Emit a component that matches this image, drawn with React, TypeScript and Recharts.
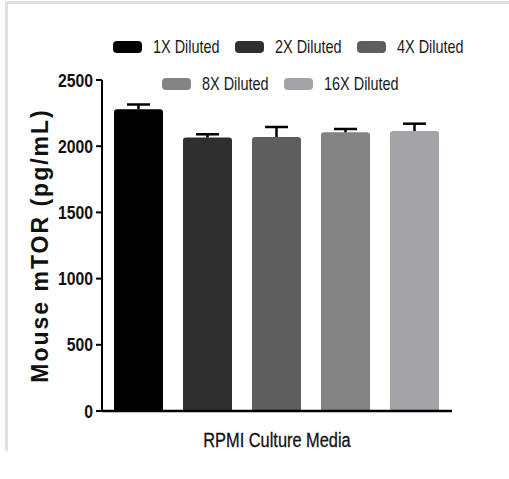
import React from 'react';
import { BarChart, Bar, XAxis, YAxis, Legend, Rectangle } from 'recharts';

const seriesNames = ['1X Diluted', '2X Diluted', '4X Diluted', '8X Diluted', '16X Diluted'];
const seriesValues = [2280, 2065, 2070, 2105, 2115];
const seriesErrors = [35, 25, 75, 25, 55];
const seriesColors = ['#000000', '#2f2f2f', '#5e5e5e', '#838383', '#a4a4a8'];
const category = 'RPMI Culture Media';
const yTicks = [0, 500, 1000, 1500, 2000, 2500];
const yTitle = 'Mouse mTOR (pg/mL)';

const data = [
  seriesNames.reduce(
    (row: any, _n, i) => {
      row['s' + i] = seriesValues[i];
      return row;
    },
    { name: category }
  ),
];

const SANS = '"Liberation Sans", Arial, sans-serif';

const makeShape = (i: number) => (p: any) => {
  const { x, y, width, height, fill } = p;
  const errPx = (seriesErrors[i] / seriesValues[i]) * height;
  const cx = x + width / 2;
  return (
    <g>
      <Rectangle x={x} y={y} width={width} height={height} fill={fill} radius={[3, 3, 0, 0]} />
      <line x1={cx} y1={y} x2={cx} y2={y - errPx} stroke="#000" strokeWidth={2.5} />
      <line x1={cx - 11.5} y1={y - errPx} x2={cx + 11.5} y2={y - errPx} stroke="#000" strokeWidth={2.5} />
    </g>
  );
};

const renderLegend = () => {
  const item = (i: number, w: number, mr: number) => (
    <div key={i} style={{ display: 'flex', alignItems: 'center', marginRight: mr }}>
      <div
        style={{
          width: 29,
          height: 12,
          borderRadius: 4,
          background: seriesColors[i],
          marginRight: 11,
          flex: 'none',
        }}
      />
      <div style={{ width: w, height: 22, position: 'relative', flex: 'none' }}>
        <span
          style={{
            position: 'absolute',
            left: 0,
            top: 0,
            fontFamily: SANS,
            fontSize: 19,
            color: '#1a1a1a',
            lineHeight: '22px',
            whiteSpace: 'nowrap',
            transform: 'scaleX(0.76)',
            transformOrigin: '0 0',
          }}
        >
          {seriesNames[i]}
        </span>
      </div>
    </div>
  );
  return (
    <div style={{ position: 'relative', width: 509, height: 0, overflow: 'visible' }}>
      <div style={{ position: 'absolute', left: 113, top: 36, display: 'flex' }}>
        {item(0, 67, 15)}
        {item(1, 67, 15)}
        {item(2, 67, 0)}
      </div>
      <div style={{ position: 'absolute', left: 162, top: 73, display: 'flex' }}>
        {item(3, 67, 15)}
        {item(4, 75, 0)}
      </div>
    </div>
  );
};

const YTick = (props: any) => {
  const { x, y, payload } = props;
  return (
    <g transform={`translate(${x},${y}) scale(0.83,1)`}>
      <text
        x={0}
        y={0}
        textAnchor="end"
        dominantBaseline="central"
        fontFamily={SANS}
        fontWeight="bold"
        fontSize={19}
        fill="#111"
      >
        {payload.value}
      </text>
    </g>
  );
};

const YTitle = (props: any) => {
  const vb = props.viewBox || {};
  const cx = 40;
  const cy = vb.y + vb.height / 2;
  return (
    <text
      x={cx}
      y={cy}
      transform={`rotate(-90, ${cx}, ${cy})`}
      textAnchor="middle"
      dominantBaseline="central"
      fontFamily={SANS}
      fontWeight="bold"
      fontSize={23}
      letterSpacing={2}
      fill="#111"
    >
      {yTitle}
    </text>
  );
};

const XTitle = (props: any) => {
  const vb = props.viewBox || {};
  const cx = vb.x + vb.width / 2;
  return (
    <g transform={`translate(${cx},447) scale(0.78,1)`}>
      <text x={0} y={0} textAnchor="middle" fontFamily={SANS} fontSize={21} fill="#111" stroke="#111" strokeWidth={0.3}>
        {category}
      </text>
    </g>
  );
};

export default function App() {
  return (
    <div style={{ position: 'absolute', left: 0, top: 0, width: 509, height: 479, background: '#fff' }}>
      <div
        style={{
          position: 'absolute',
          left: 5,
          top: 1,
          width: 504,
          height: 450,
          borderTop: '3px solid #e0e0e0',
          borderLeft: '3px solid #e0e0e0',
          boxSizing: 'border-box',
        }}
      />
      <div style={{ position: 'absolute', left: 0, top: 0 }}>
        <BarChart
          width={509}
          height={479}
          data={data}
          margin={{ top: 80, right: 57, left: 0, bottom: 8 }}
          barCategoryGap={12}
          barGap={20}
        >
          <XAxis
            dataKey="name"
            tick={false}
            tickLine={false}
            axisLine={{ stroke: '#000', strokeWidth: 2.5 }}
            height={60}
            label={<XTitle />}
          />
          <YAxis
            width={102}
            domain={[0, 2500]}
            ticks={yTicks}
            interval={0}
            tickSize={6}
            tickMargin={3}
            axisLine={{ stroke: '#000', strokeWidth: 2 }}
            tickLine={{ stroke: '#000', strokeWidth: 2 }}
            tick={<YTick />}
            label={<YTitle />}
          />
          <Legend
            content={renderLegend}
            wrapperStyle={{ position: 'absolute', left: 0, top: 0, width: 509, height: 0 }}
          />
          {seriesNames.map((n, i) => (
            <Bar
              key={n}
              dataKey={'s' + i}
              name={n}
              fill={seriesColors[i]}
              isAnimationActive={false}
              shape={makeShape(i)}
            />
          ))}
        </BarChart>
      </div>
    </div>
  );
}
